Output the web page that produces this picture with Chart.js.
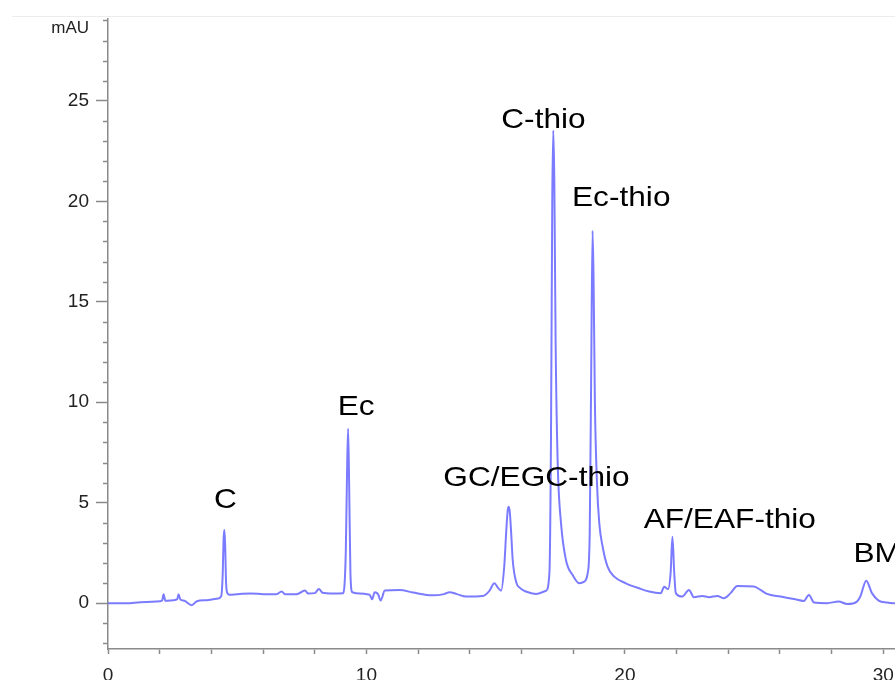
<!DOCTYPE html>
<html>
<head>
<meta charset="utf-8">
<script src="https://cdn.jsdelivr.net/npm/chart.js@4.4.1/dist/chart.umd.min.js"></script>
<style>
  html, body { margin: 0; padding: 0; background: #fff; overflow: hidden; }
  #wrap { position: relative; width: 895px; height: 680px; overflow: hidden; }
  #frame { position: absolute; left: 12px; top: 16px; width: 883px; height: 1px; background: #ececec; }
  #chart { position: absolute; left: 0; top: 0; }
</style>
</head>
<body>
<div id="wrap">
  <div id="frame"></div>
  <canvas id="chart" width="945" height="700"></canvas>
</div>
<script>
// retention time (min) and absorbance (mAU)
const times = [
  0.00, 0.73, 1.25, 2.02, 2.10, 2.15, 2.22, 2.53, 2.68, 2.73,
  2.80, 2.95, 3.24, 3.44, 3.82, 4.21, 4.38, 4.44, 4.47, 4.50,
  4.53, 4.57, 4.62, 4.70, 5.00, 5.50, 6.00, 6.50, 6.72, 6.85,
  7.30, 7.62, 7.75, 8.00, 8.16, 8.30, 8.70, 9.10, 9.20, 9.25,
  9.29, 9.33, 9.38, 9.45, 9.61, 10.00, 10.13, 10.22, 10.32, 10.45,
  10.55, 10.71, 11.29, 11.80, 12.57, 13.00, 13.22, 13.50, 13.86, 14.50,
  14.75, 14.95, 15.10, 15.21, 15.33, 15.42, 15.47, 15.51, 15.55, 15.60,
  15.66, 15.79, 15.95, 16.17, 16.56, 16.95, 17.08, 17.14, 17.19, 17.23,
  17.27, 17.32, 17.40, 17.53, 17.72, 17.98, 18.24, 18.43, 18.56, 18.64,
  18.70, 18.75, 18.79, 18.84, 18.92, 19.01, 19.14, 19.33, 19.59, 20.04,
  20.55, 20.94, 21.39, 21.52, 21.67, 21.77, 21.84, 21.91, 21.97, 22.22,
  22.48, 22.67, 23.00, 23.25, 23.58, 23.83, 24.09, 24.35, 24.99, 25.25,
  25.50, 26.02, 26.54, 26.92, 27.12, 27.32, 27.82, 28.27, 28.60, 28.98,
  29.11, 29.34, 29.56, 29.82, 30.14, 30.40, 30.50
];
const signal = [
  0.00, 0.00, 0.05, 0.10, 0.15, 0.45, 0.12, 0.15, 0.20, 0.45,
  0.18, 0.12, -0.10, 0.10, 0.15, 0.22, 0.35, 1.50, 3.10, 3.65,
  3.00, 1.00, 0.50, 0.42, 0.45, 0.48, 0.45, 0.44, 0.58, 0.45,
  0.44, 0.63, 0.48, 0.50, 0.70, 0.52, 0.48, 0.50, 2.50, 6.50,
  8.68, 6.00, 1.50, 0.55, 0.50, 0.45, 0.41, 0.20, 0.55, 0.45,
  0.13, 0.63, 0.66, 0.53, 0.39, 0.45, 0.55, 0.45, 0.33, 0.36,
  0.60, 0.99, 0.75, 0.62, 1.80, 3.80, 4.65, 4.80, 4.50, 3.50,
  2.15, 1.07, 0.75, 0.58, 0.46, 0.62, 1.50, 8.00, 20.0, 23.52,
  21.0, 13.0, 7.00, 3.97, 2.15, 1.40, 0.99, 1.07, 1.49, 3.50,
  12.0, 18.53, 16.0, 10.0, 6.00, 3.97, 2.81, 1.82, 1.32, 0.99,
  0.74, 0.58, 0.50, 0.82, 0.70, 1.50, 3.30, 1.50, 0.50, 0.33,
  0.66, 0.30, 0.36, 0.30, 0.36, 0.25, 0.50, 0.86, 0.83, 0.66,
  0.46, 0.33, 0.21, 0.11, 0.41, 0.03, 0.00, 0.08, -0.04, 0.08,
  0.33, 1.12, 0.50, 0.13, 0.03, 0.00, 0.00
];

// peak annotations: centre time and baseline height, in data units
const peakNames = ['C', 'Ec', 'GC/EGC-thio', 'C-thio', 'Ec-thio', 'AF/EAF-thio', 'BM'];
const peakLabelX = [4.54, 9.60, 16.58, 16.85, 19.86, 24.06, 29.76];
const peakLabelY = [4.74, 9.36, 5.83, 23.67, 19.75, 3.74, 2.05];

const axisColor = '#8a8a8a';
const textColor = '#222';
const fontFamily = '"Liberation Sans", Arial, Helvetica, sans-serif';

const annotations = {
  id: 'annotations',
  afterDraw(chart) {
    const { ctx, scales: { x, y } } = chart;
    ctx.save();

    // short minor ticks on the y axis
    ctx.strokeStyle = axisColor;
    ctx.lineWidth = 1.5;
    y.ticks.forEach(t => {
      if (t.value % 5 === 0) return;
      const py = Math.round(y.getPixelForValue(t.value)) + 0.5;
      ctx.beginPath();
      ctx.moveTo(y.right - 5, py);
      ctx.lineTo(y.right, py);
      ctx.stroke();
    });

    // unit at the top of the y axis
    ctx.fillStyle = textColor;
    ctx.font = '17px ' + fontFamily;
    ctx.textAlign = 'right';
    ctx.textBaseline = 'alphabetic';
    ctx.fillText('mAU', y.right - 19, y.top + 15);

    // peak names
    ctx.fillStyle = '#000';
    ctx.font = '28px ' + fontFamily;
    ctx.textAlign = 'center';
    peakNames.forEach((name, i) => {
      ctx.save();
      ctx.translate(x.getPixelForValue(peakLabelX[i]), y.getPixelForValue(peakLabelY[i]));
      ctx.scale(1.13, 1);
      ctx.fillText(name, 0, 0);
      ctx.restore();
    });
    ctx.restore();
  }
};

new Chart(document.getElementById('chart'), {
  type: 'line',
  data: {
    datasets: [{
      data: times.map((t, i) => ({ x: t, y: signal[i] })),
      borderColor: 'rgba(100, 100, 255, 0.85)',
      borderWidth: 2,
      pointRadius: 0,
      tension: 0,
      cubicInterpolationMode: 'monotone',
      fill: false
    }]
  },
  options: {
    responsive: false,
    animation: false,
    layout: { padding: { top: 18, left: 0, right: 3, bottom: 0 } },
    plugins: { legend: { display: false }, tooltip: { enabled: false } },
    scales: {
      x: {
        type: 'linear',
        min: 0,
        max: 32,
        afterFit: s => { s.height = 51; },
        border: { color: axisColor, width: 1.5 },
        grid: { drawOnChartArea: false, tickLength: 5, tickColor: axisColor, tickWidth: 1.5 },
        ticks: {
          stepSize: 2,
          autoSkip: false,
          includeBounds: false,
          maxRotation: 0,
          padding: 10,
          color: textColor,
          font: { size: 19, family: fontFamily },
          callback: v => (v % 10 === 0 && v <= 30 ? v : '')
        }
      },
      y: {
        min: -2.28,
        max: 29.1,
        afterFit: s => { s.width = 108; },
        border: { color: axisColor, width: 1.5 },
        grid: {
          drawOnChartArea: false,
          tickLength: 12,
          tickWidth: 1.5,
          tickColor: c => (c.tick && c.tick.value % 5 === 0 ? axisColor : 'rgba(0,0,0,0)')
        },
        ticks: {
          stepSize: 1,
          autoSkip: false,
          includeBounds: false,
          padding: 7,
          color: textColor,
          font: { size: 19, family: fontFamily },
          callback: v => (v >= 0 && v % 5 === 0 ? v : '')
        }
      }
    }
  },
  plugins: [annotations]
});
</script>
</body>
</html>
